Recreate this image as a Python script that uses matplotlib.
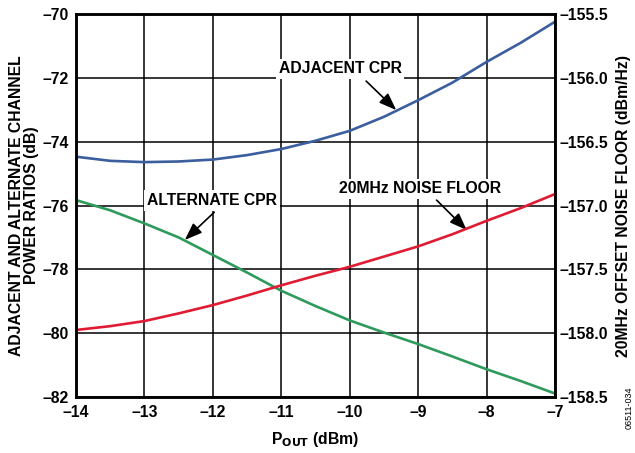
import matplotlib
matplotlib.use("Agg")
import matplotlib.pyplot as plt

plt.rcParams['font.family'] = ['Liberation Sans', 'DejaVu Sans']
plt.rcParams['font.weight'] = 'bold'

# P_OUT (dBm)
pout = [-14, -13.5, -13, -12.5, -12, -11.5, -11, -10.5, -10, -9.5, -9, -8.5, -8, -7.5, -7]
# channel power ratios (dB), left axis
adjacent_cpr = [-74.47, -74.6, -74.64, -74.62, -74.56, -74.42, -74.23, -73.97, -73.66,
                -73.22, -72.7, -72.15, -71.5, -70.9, -70.24]
alternate_cpr = [-75.83, -76.15, -76.56, -77.0, -77.55, -78.1, -78.67, -79.15, -79.6,
                 -79.98, -80.34, -80.73, -81.13, -81.5, -81.89]
# 20MHz offset noise floor (dBm/Hz), right axis
noise_floor = [-157.975, -157.945, -157.905, -157.845, -157.78, -157.705, -157.625, -157.55,
               -157.48, -157.4, -157.32, -157.225, -157.12, -157.02, -156.91]

blue = '#3b5e9e'
green = '#2e9a5c'
red = '#e01b34'
fs = 11.3

fig = plt.figure(figsize=(6.35, 4.53), dpi=100, facecolor='white')
ax = fig.add_axes([0.1197, 0.1236, 0.7543, 0.8454])
ax2 = ax.twinx()

ax.plot(pout, adjacent_cpr, color=blue, lw=1.9)
ax.plot(pout, alternate_cpr, color=green, lw=1.9)
ax2.plot(pout, noise_floor, color=red, lw=1.9)

ax.set_xlim(-14, -7)
ax.set_ylim(-82, -70)
ax2.set_ylim(-158.5, -155.5)
ax.set_xticks(range(-14, -6))
ax.set_yticks(range(-82, -69, 2))
ax2.set_yticks([-158.5, -158.0, -157.5, -157.0, -156.5, -156.0, -155.5])

ax.set_xticklabels([str(v).replace('-', '\u2013') for v in range(-14, -6)])
ax.set_yticklabels([str(v).replace('-', '\u2013') for v in range(-82, -69, 2)])
ax2.set_yticklabels([f'{v:.1f}'.replace('-', '\u2013') for v in ax2.get_yticks()])

ax.grid(True, color='black', lw=1.1)
ax.set_axisbelow(True)
ax.tick_params(axis='y', length=0, labelsize=fs, pad=5)
ax.tick_params(axis='x', length=0, labelsize=fs, pad=6)
ax2.tick_params(length=0, labelsize=fs, pad=3)
for a in (ax, ax2):
    for s in a.spines.values():
        s.set_linewidth(1.8)

ax.set_ylabel('ADJACENT AND ALTERNATE CHANNEL\nPOWER RATIOS (dB)', fontsize=fs,
              fontweight='bold', linespacing=0.92, labelpad=3)
ax2.set_ylabel('20MHz OFFSET NOISE FLOOR (dBm/Hz)', fontsize=fs, fontweight='bold', labelpad=6)
ax.set_xlabel(r'P$_{\mathbf{OUT}}$ (dBm)', fontsize=fs, fontweight='bold', labelpad=7)

box = dict(facecolor='white', edgecolor='none', pad=2)
arrow = dict(arrowstyle='-|>,head_length=0.75,head_width=0.28', color='black', lw=1.2,
             mutation_scale=14, shrinkA=0, shrinkB=0)

ax.text(-10.14, -71.72, 'ADJACENT CPR', fontsize=fs, ha='center', va='center', bbox=box)
ax.annotate('', xy=(-9.32, -73.01), xytext=(-9.76, -72.10), arrowprops=arrow)

ax.text(-12.01, -75.85, 'ALTERNATE CPR', fontsize=fs, ha='center', va='center', bbox=box)
ax.annotate('', xy=(-12.41, -77.08), xytext=(-11.98, -76.21), arrowprops=arrow)

ax.text(-8.97, -75.48, '20MHz NOISE FLOOR', fontsize=fs, ha='center', va='center', bbox=box)
ax.annotate('', xy=(-8.29, -76.77), xytext=(-8.73, -75.83), arrowprops=arrow)

fig.text(0.99, 0.1, '06511-034', rotation=90, fontsize=6.5, fontweight='normal',
         ha='center', va='center')

fig.savefig('out.png', dpi=100)
